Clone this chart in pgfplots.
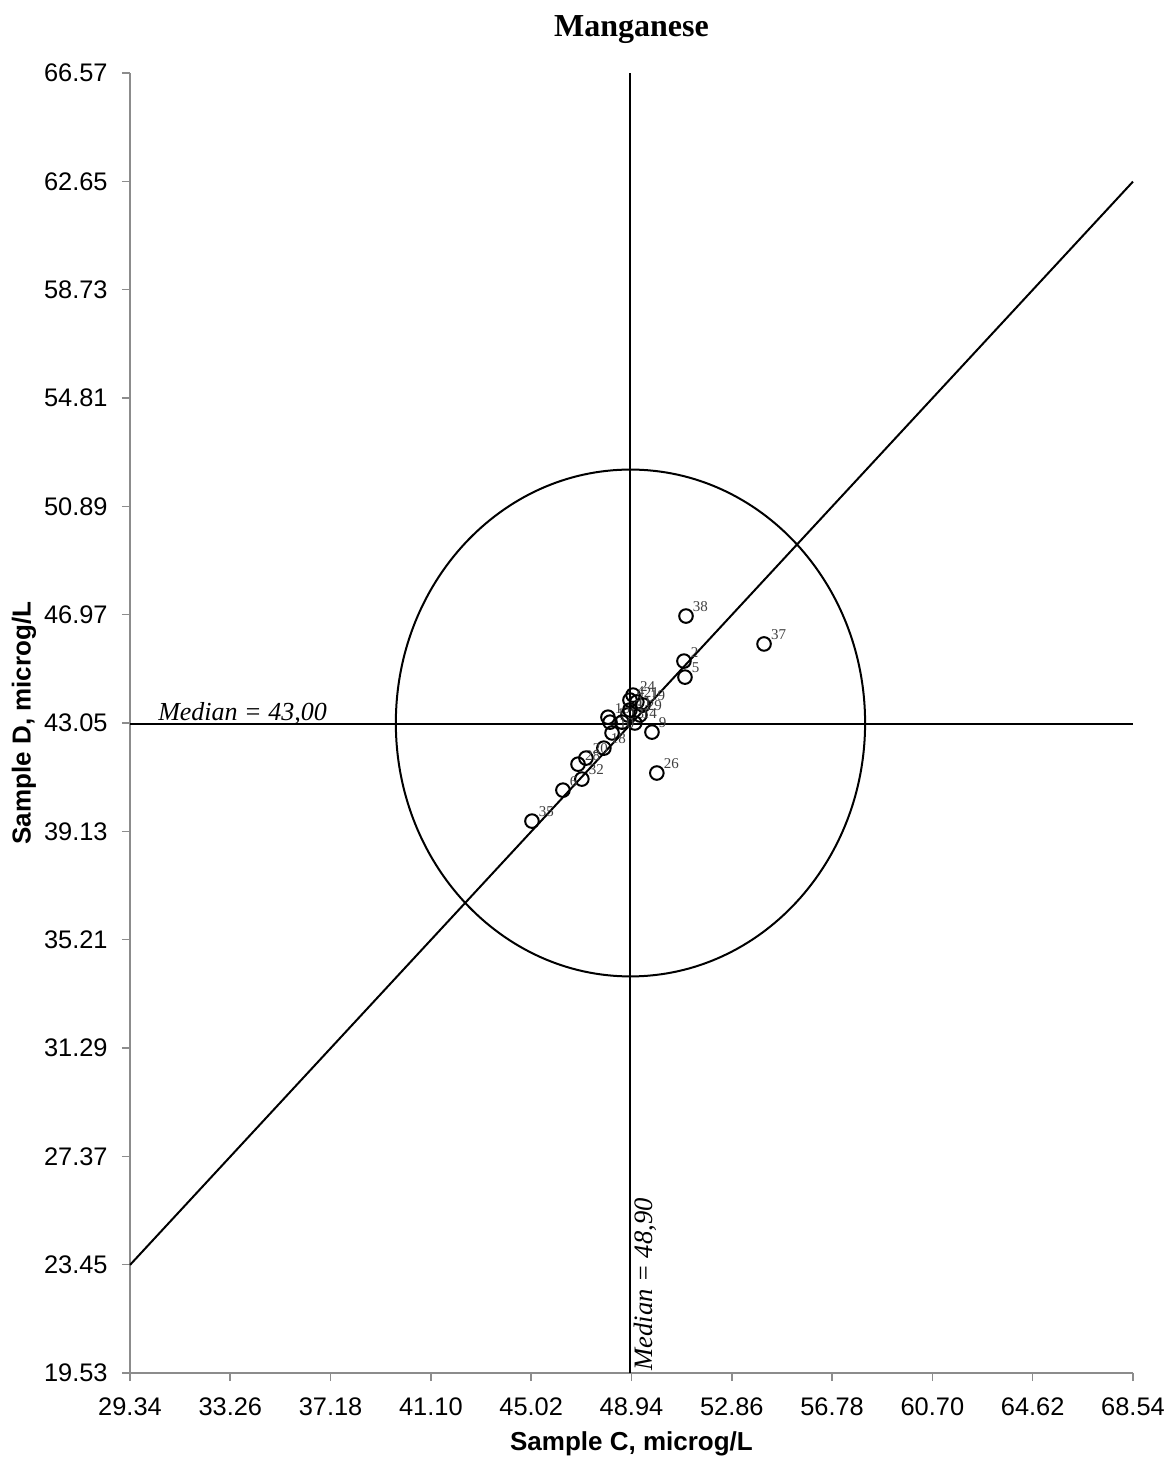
\documentclass[border=0pt]{standalone}
\usepackage{pgfplots}
\pgfplotsset{compat=1.18}
\usepackage{fontspec}
\setmainfont{Liberation Serif}
\setsansfont{Liberation Sans}
\pgfplotstableread{
x y label
51.07 46.92 38
54.12 45.91 37
50.99 45.29 2
51.03 44.71 5
49.00 44.06 24
48.88 43.88 4
49.39 43.70 19
49.15 43.81 21
48.80 43.34 3
49.27 43.34 29
48.02 43.26 16
48.10 43.08 1
48.57 43.08 13
49.07 43.05 14
48.18 42.69 10
49.74 42.72 9
47.86 42.14 18
47.16 41.78 20
46.85 41.56 28
47.00 41.02 32
46.26 40.62 6
45.05 39.50 35
49.93 41.24 26
48.88 43.52 11
}\pts
\begin{document}
\begin{tikzpicture}
\begin{axis}[
  scale only axis, width=501.5pt, height=650pt,
  xmin=29.34, xmax=68.54, ymin=19.53, ymax=66.57,
  axis x line*=bottom, axis y line*=left,
  axis line style={black!45, line width=0.8pt, -},
  xtick={29.34,33.26,37.18,41.10,45.02,48.94,52.86,56.78,60.70,64.62,68.54},
  ytick={19.53,23.45,27.37,31.29,35.21,39.13,43.05,46.97,50.89,54.81,58.73,62.65,66.57},
  tick align=outside, major tick length=4pt,
  tick style={black!45, line width=0.8pt},
  tick label style={font=\sffamily\fontsize{12.7}{15}\selectfont},
  every y tick label/.append style={anchor=east, inner sep=0pt, xshift=-7pt},
  xticklabel style={yshift=-5pt},
  clip=false,
  /pgf/number format/fixed,
  /pgf/number format/fixed zerofill,
  /pgf/number format/precision=2,
  /pgf/number format/assume math mode=true,
]
\coordinate (sw) at (rel axis cs:0,0);
\coordinate (ne) at (rel axis cs:1,1);
\addplot[black, line width=1pt] coordinates {(29.34,43.0) (68.54,43.0)};
\addplot[black, line width=1pt] coordinates {(48.9,19.53) (48.9,66.57)};
\addplot[black, line width=1pt] coordinates {(29.34,23.44) (68.54,62.64)};
\draw[black, line width=1pt] (axis cs:48.9,43.05) ellipse [x radius=9.17, y radius=9.17];
\addplot[only marks, mark=o, mark size=3.4pt, mark options={black, line width=1pt},
  nodes near coords, point meta=explicit symbolic,
  nodes near coords style={anchor=south west, inner sep=0pt, xshift=3pt, yshift=1.5pt,
    font=\fontsize{7.5}{8}\selectfont, text=black!75}]
  table[x=x, y=y, meta=label] {\pts};
\node[font=\itshape\fontsize{13}{15}\selectfont, anchor=base west, inner sep=0pt]
  at (axis cs:30.43,43.15) {Median = 43,00};
\node[font=\itshape\fontsize{13.3}{15}\selectfont, rotate=90, anchor=north west, inner sep=1pt]
  at (axis cs:48.95,19.53) {Median = 48,90};
\node[font=\bfseries\fontsize{16}{18}\selectfont] at ([yshift=21.5pt]rel axis cs:0.5,1) {Manganese};
\node[font=\sffamily\bfseries\fontsize{13}{15}\selectfont] at ([yshift=-35.5pt]rel axis cs:0.5,0) {Sample C, microg/L};
\node[font=\sffamily\bfseries\fontsize{13}{15}\selectfont, rotate=90] at ([xshift=-53pt]rel axis cs:0,0.5) {Sample D, microg/L};
\end{axis}
\pgfresetboundingbox
\path[use as bounding box] ([xshift=-65pt,yshift=-42.5pt]sw) rectangle ([xshift=20.5pt,yshift=36.5pt]ne);
\end{tikzpicture}
\end{document}
